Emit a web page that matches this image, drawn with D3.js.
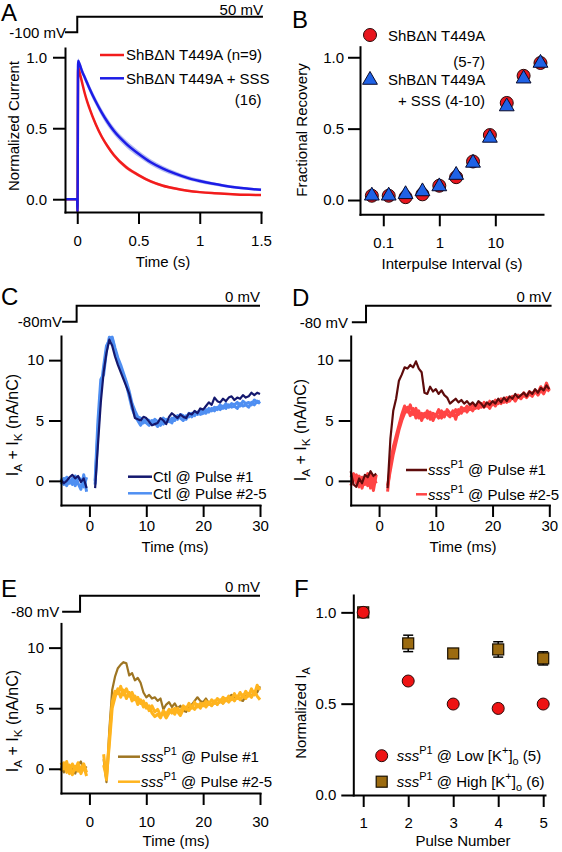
<!DOCTYPE html>
<html><head><meta charset="utf-8">
<script src="https://cdn.jsdelivr.net/npm/d3@7"></script>
<style>
body{margin:0;background:#fff}
svg{display:block}
text{font-family:"Liberation Sans",Arial,Helvetica,sans-serif;fill:#000;white-space:pre}
</style></head><body>
<svg id="fig" width="562" height="852"></svg>
<script>
// ---------- DATA ----------
// Panel A: normalized current decay (mean) and SEM
const tA = [-0.1, 0, 0.002, 0.007, 0.02, 0.04, 0.06, 0.08, 0.1, 0.15, 0.2, 0.25, 0.3, 0.4, 0.5, 0.6, 0.7, 0.8, 0.9, 1.0, 1.1, 1.2, 1.3, 1.4, 1.5];
const redA  = [0, 0, -0.09, 0.93, 0.89, 0.82, 0.75, 0.69, 0.64, 0.53, 0.44, 0.37, 0.31, 0.225, 0.17, 0.125, 0.095, 0.075, 0.06, 0.05, 0.043, 0.038, 0.034, 0.031, 0.03];
const blueA = [0, 0, -0.09, 0.975, 0.95, 0.9, 0.86, 0.82, 0.78, 0.69, 0.61, 0.54, 0.48, 0.39, 0.32, 0.26, 0.215, 0.18, 0.15, 0.128, 0.11, 0.095, 0.083, 0.074, 0.066];
const semRedA  = [0, 0, 0, 0.015, 0.015, 0.015, 0.016, 0.016, 0.016, 0.016, 0.016, 0.015, 0.015, 0.014, 0.012, 0.011, 0.01, 0.009, 0.008, 0.008, 0.007, 0.007, 0.007, 0.006, 0.006];
const semBlueA = [0, 0, 0, 0.02, 0.022, 0.024, 0.025, 0.026, 0.026, 0.027, 0.027, 0.027, 0.026, 0.025, 0.023, 0.021, 0.019, 0.017, 0.015, 0.014, 0.012, 0.011, 0.01, 0.009, 0.009];
const legendA = ["ShB\u0394N T449A (n=9)", "ShB\u0394N T449A + SSS", "(16)"];

// Panel B: recovery from inactivation
const intervalsB = [0.0625, 0.125, 0.25, 0.5, 1, 2, 4, 8, 16, 32, 64];
const recRedB  = [0.03, 0.03, 0.02, 0.04, 0.10, 0.16, 0.27, 0.455, 0.68, 0.87, 0.96];
const recBlueB = [0.03, 0.03, 0.04, 0.06, 0.095, 0.175, 0.26, 0.435, 0.655, 0.85, 0.96];

// Panels C-E: current traces sampled every 0.5 ms from -5 to 30 ms (null = blanked)
const tTrace = d3.range(-5, 30.001, 0.5);
const ctl1 = [0.1,-0.2,0.0,0.3,0.5,0.2,0.4,-0.1,0.2,-0.6, null,null, -0.6,3.0,6.5,9.0,10.6,11.7,11.2,10.3,
  9.6,9.0,8.4,7.8,7.2,6.2,5.2,5.1,5.0,5.3, 5.2,4.9,4.6,4.7,4.8,5.2,5.0,4.7,5.3,5.6,
  5.4,5.2,5.5,5.3,5.2,5.6,5.5,5.8,5.6,6.0, 5.9,6.2,6.5,6.3,6.9,6.6,6.5,6.8,6.6,6.9,
  7.0,6.7,6.9,6.8,7.1,6.9,7.0,7.3,7.1,7.3,7.2];
const ctl2a = [-0.3,0.2,-0.4,0.1,-0.3,0.4,-0.2,-0.7,0.5,-0.9, null,null, 0.0,5.0,8.4,8.8,10.8,11.9,11.8,10.8,
  10.0,9.3,8.7,8.0,7.0,6.0,5.4,5.0,4.6,5.0, 4.8,4.6,5.0,4.8,4.5,4.9,4.7,5.1,4.9,5.2,
  5.0,5.4,5.2,5.0,5.4,5.3,5.6,5.4,5.7,5.5, 5.6,5.9,5.7,6.0,5.8,6.1,5.9,6.2,6.0,6.3,
  6.1,6.2,6.0,6.4,6.2,6.3,6.1,6.5,6.3,6.6,6.4];
const ctl2b = [0.2,-0.3,0.3,-0.2,0.2,-0.4,0.3,0.1,-0.5,0.3, null,null, -0.3,4.2,7.6,9.5,11.2,11.6,11.9,11.0,
  10.2,9.6,8.9,8.2,7.4,6.4,5.8,5.3,5.2,4.8, 5.1,5.0,4.7,5.1,4.9,4.6,5.2,4.9,5.0,4.8,
  5.3,5.1,5.5,5.4,5.1,5.6,5.3,5.7,5.5,5.8, 5.7,5.6,6.0,5.8,6.1,5.9,6.3,6.0,6.4,6.1,
  6.4,6.3,6.5,6.2,6.6,6.4,6.5,6.3,6.7,6.5,6.6];
const sssD1 = [0.8,-0.3,-0.5,0.2,-0.2,0.5,0.3,0.8,0.4,0.6, null,null,null, -0.6,3.5,5.8,6.8,8.3,8.8,9.4,
  9.3,9.6,9.4,9.9,9.3,9.0,7.3,7.2,7.8,7.4, 7.6,7.2,7.5,7.1,6.9,6.4,6.6,6.8,6.5,6.7,
  6.4,6.6,6.3,6.5,6.2,6.6,6.4,6.1,6.5,6.3, 6.6,6.4,6.8,6.5,6.9,6.6,7.0,6.8,7.2,6.9,
  7.1,7.3,7.0,7.4,7.2,7.6,7.3,7.7,7.5,7.9,7.6];
const sssD2a = [0.3,0.6,-0.2,0.4,-0.6,0.2,-0.4,0.6,-0.8,0.5, null,null,null, -0.9,1.5,2.8,3.7,4.6,5.5,6.2,
  5.7,6.3,5.5,6.0,5.2,5.6,5.3,5.8,5.1,5.6, 5.4,5.9,5.2,5.7,5.5,5.3,5.8,5.1,5.9,5.6,
  6.0,5.7,6.1,5.8,6.2,6.0,6.4,6.1,6.3,6.0, 6.5,6.2,6.6,6.4,6.8,6.5,6.7,6.9,6.6,7.0,
  6.8,7.1,6.9,7.2,7.0,7.4,7.1,7.5,7.2,7.7,7.4];
const sssD2b = [-0.4,0.1,0.5,-0.5,0.3,-0.3,0.6,-0.6,0.3,-0.2, null,null,null, -0.4,0.9,2.2,3.2,4.2,5.0,5.6,
  6.1,5.4,6.0,5.2,5.8,5.0,5.6,5.2,5.7,5.0, 5.5,5.2,5.8,5.3,5.9,5.6,5.4,5.9,5.5,6.1,
  5.8,6.2,5.9,6.3,6.0,6.4,6.1,6.5,6.2,6.6, 6.3,6.7,6.4,6.8,6.5,6.9,6.6,7.0,6.8,7.1,
  6.9,7.3,7.0,7.4,7.2,7.5,7.3,7.8,7.4,8.1,7.5];
const sssE1 = [0.2,-0.3,0.4,-0.2,0.1,-0.4,0.3,0.6,-0.1,0.2, null,null,null,null,null, 0.8,-1.1,3.2,6.5,7.6,
  8.3,8.6,8.8,8.7,7.7,7.9,7.3,7.5,7.1,6.3, 5.9,6.1,5.8,5.9,5.6,5.8,4.9,5.3,5.5,5.1,
  5.4,5.0,5.2,4.8,4.7,5.1,5.3,5.6,5.9,5.6, 5.5,5.8,5.4,5.2,5.5,5.3,5.6,5.4,5.7,5.9,
  6.1,5.9,6.0,5.7,5.6,6.0,6.2,6.0,6.4,6.3,6.8];
const sssE2a = [-0.2,0.5,-0.3,0.3,-0.5,0.2,-0.2,0.1,0.4,-0.3, null,null,null,null,null, 1.2,-0.9,2.5,5.5,6.4,
  6.2,6.8,6.1,6.6,6.0,6.3,5.7,5.9,5.4,5.6, 5.0,5.2,4.6,4.3,4.5,4.2,4.8,4.5,4.9,4.6,
  5.0,4.7,4.4,4.9,5.1,4.8,5.2,4.9,5.3,5.0, 5.4,5.1,5.5,5.2,5.6,5.3,5.7,5.4,5.8,5.5,
  5.9,5.6,6.0,5.7,6.1,5.8,6.2,5.9,6.4,6.0,5.7];
const sssE2b = [0.5,0.0,0.6,-0.4,0.4,-0.1,0.5,-0.4,0.2,-0.6, null,null,null,null,null, 0.3,-0.7,2.0,5.0,5.9,
  6.6,5.9,6.5,5.8,6.3,5.6,6.0,5.3,5.7,5.1, 5.4,4.8,5.2,4.7,4.9,4.4,4.6,4.2,4.6,4.9,
  4.5,5.0,4.7,5.2,4.9,5.4,5.0,5.5,5.1,5.4, 5.2,5.6,5.3,5.7,5.4,5.8,5.5,5.9,5.6,6.0,
  5.7,6.2,5.8,6.3,5.9,6.4,6.0,6.6,6.1,6.9,6.5];

// voltage step times (ms or s)
const stepA = {t0: -0.1, ts: 0, t1: 1.516, low: "-100 mV", high: "50 mV"};
const stepC = {t0: -4.8, ts: -2.25, t1: 30, low: "-80mV", high: "0 mV"};
const stepD = {t0: -4.8, ts: -2.3, t1: 30.4, low: "-80 mV", high: "0 mV"};
const stepE = {t0: -4.8, ts: -1.65, t1: 30, low: "-80 mV", high: "0 mV"};

// Panel F
const pulsesF = [1, 2, 3, 4, 5];
const lowKF  = [1.0, 0.624, 0.498, 0.474, 0.498];
const highKF = [1.0, 0.83, 0.775, 0.797, 0.748];
const highKErrF = [0, 0.045, 0.015, 0.042, 0.036];

// tick values
const ticksA_x = [0, 0.5, 1, 1.5], ticks01 = [0, 0.5, 1];
const ticksB_x = [0.1, 1, 10];
const ticksTrace_x = [0, 10, 20, 30], ticksTrace_y = [0, 5, 10];

// ---------- DRAWING ----------
const svg = d3.select("#fig");
const FONT = '"Liberation Sans", Arial, Helvetica, sans-serif';
const f1 = d3.format(".1f");

function axes(x, y, xt, xf, yt, yf, xpad, ypad) {
  const xb = y.range()[0], yl = x.range()[0];
  const ax = svg.append("g").attr("transform", `translate(0,${xb})`)
    .call(d3.axisBottom(x).tickValues(xt).tickFormat(xf).tickSize(12).tickSizeOuter(0).tickPadding(xpad));
  const ay = svg.append("g").attr("transform", `translate(${yl},0)`)
    .call(d3.axisLeft(y).tickValues(yt).tickFormat(yf).tickSize(12).tickSizeOuter(0).tickPadding(ypad));
  [ax, ay].forEach(a => {
    a.attr("font-size", 15).attr("font-family", FONT);
    a.select(".domain").attr("stroke-width", 2).attr("stroke-linecap", "square");
    a.selectAll(".tick line").attr("stroke-width", 2);
    a.selectAll("text").attr("fill", "#000");
  });
}
function txt(x, y, s, anchor, size) {
  return svg.append("text").attr("x", x).attr("y", y).attr("text-anchor", anchor || "start")
    .attr("font-size", size || 15).text(s);
}
function rich(parent, x, y, parts, anchor, size) {
  size = size || 15;
  const t = parent.append("text").attr("x", x).attr("y", y).attr("text-anchor", anchor || "start").attr("font-size", size);
  let cur = 0;
  parts.forEach(p => {
    const target = p.sup ? -7 : p.sub ? 4 : 0;
    const ts = t.append("tspan").attr("dy", target - cur).text(p.t);
    if (p.sup || p.sub) ts.attr("font-size", size * 0.73);
    if (p.i) ts.attr("font-style", "italic");
    cur = target;
  });
  return t;
}
function ylab(x, y, parts, size) {
  const g = svg.append("g").attr("transform", `translate(${x},${y}) rotate(-90)`);
  rich(g, 0, 0, parts, "middle", size);
}
function step(x, st, yLow, yHigh, lowRight, highBase) {
  svg.append("path").attr("fill", "none").attr("stroke", "#000").attr("stroke-width", 2)
    .attr("d", `M${x(st.t0)},${yLow}H${x(st.ts)}V${yHigh}H${x(st.t1)}`);
  txt(lowRight, yLow + 5.3, st.low, "end");
  txt(x(st.t1), highBase, st.high, "end");
}
function letter(x, y, s) { txt(x, y, s, "start", 24); }
function traces(x, y, list) {
  const line = d3.line().defined(d => d[1] != null).x(d => x(d[0])).y(d => y(d[1]));
  list.forEach(([arr, col, w]) => {
    svg.append("path").datum(tTrace.map((t, i) => [t, arr[i]]))
      .attr("fill", "none").attr("stroke", col).attr("stroke-width", w)
      .attr("stroke-linejoin", "round").attr("d", line);
  });
}
function legLine(x0, x1, y, col) {
  svg.append("line").attr("x1", x0).attr("x2", x1).attr("y1", y).attr("y2", y)
    .attr("stroke", col).attr("stroke-width", 2.5);
}

// ===== Panel A =====
const xA = d3.scaleLinear([-0.1, 1.5], [65, 261]);
const yA = d3.scaleLinear([-0.09, 1.065], [212, 48]);
letter(1, 21, "A");
step(xA, stepA, 32.3, 16.7, 66, 14.5);
const areaA = d3.area().defined((d, i) => i >= 3).curve(d3.curveMonotoneX)
  .x(d => xA(d[0])).y0(d => yA(d[1] - d[2])).y1(d => yA(d[1] + d[2]));
const lineA = d3.line().curve(d3.curveMonotoneX).x(d => xA(d[0])).y(d => yA(d[1]));
const rA = tA.map((t, i) => [t, redA[i], semRedA[i]]);
const bA = tA.map((t, i) => [t, blueA[i], semBlueA[i]]);
svg.append("path").datum(rA).attr("d", areaA).attr("fill", "#f6a8a8");
svg.append("path").datum(bA).attr("d", areaA).attr("fill", "#b4bcf2");
svg.append("path").datum(rA).attr("d", lineA).attr("fill", "none").attr("stroke", "#f21c1c").attr("stroke-width", 2.5);
svg.append("path").datum(bA).attr("d", lineA).attr("fill", "none").attr("stroke", "#1c1ce6").attr("stroke-width", 2.5);
axes(xA, yA, ticksA_x, d => String(d), ticks01, f1, 11, 6);
legLine(100, 124, 55, "#f21c1c");
txt(126, 60.3, legendA[0]);
legLine(100, 124, 78.3, "#1c1ce6");
txt(126, 83.6, legendA[1]);
txt(261.5, 105.3, legendA[2], "end");
txt(163, 266.5, "Time (s)", "middle");
ylab(19, 126, [{t: "Normalized Current"}]);

// ===== Panel B =====
const xB = d3.scaleLog([0.0384, 71], [360, 543]);
const yB = d3.scaleLinear([-0.1, 1.074], [214.3, 46.7]);
letter(292, 28, "B");
axes(xB, yB, ticksB_x, d => String(d), ticks01, f1, 11, 4);
const tri = d3.symbol().type(d3.symbolTriangle).size(95);
svg.append("g").selectAll("circle").data(intervalsB).join("circle")
  .attr("cx", d => xB(d)).attr("cy", (d, i) => yB(recRedB[i])).attr("r", 6.5)
  .attr("fill", "#e8161e").attr("stroke", "#2a0a0a").attr("stroke-width", 1);
svg.append("g").selectAll("path").data(intervalsB).join("path")
  .attr("transform", (d, i) => `translate(${xB(d)},${yB(recBlueB[i])})`).attr("d", tri)
  .attr("fill", "#1f62e6").attr("stroke", "#0a0a2a").attr("stroke-width", 1);
svg.append("circle").attr("cx", 370).attr("cy", 35).attr("r", 6.5)
  .attr("fill", "#e8161e").attr("stroke", "#2a0a0a").attr("stroke-width", 1);
svg.append("path").attr("transform", "translate(370,80)").attr("d", tri)
  .attr("fill", "#1f62e6").attr("stroke", "#0a0a2a").attr("stroke-width", 1);
txt(388, 40.5, "ShB\u0394N T449A");
txt(485, 67, "(5-7)", "end");
txt(388, 84.5, "ShB\u0394N T449A");
txt(485, 105.5, "+ SSS (4-10)", "end");
txt(452, 269, "Interpulse Interval (s)", "middle");
ylab(307, 130, [{t: "Fractional Recovery"}]);

const IAIK = [{t: "I"}, {t: "A", sub: true}, {t: " + I"}, {t: "K", sub: true}, {t: " (nA/nC)"}];

// ===== Panel C =====
const xC = d3.scaleLinear([-5, 30], [61, 260]);
const yC = d3.scaleLinear([-2, 12], [505, 336]);
letter(1, 305, "C");
step(xC, stepC, 321.7, 305.7, 62, 302);
traces(xC, yC, [[ctl2a, "#4f8ff2", 3], [ctl2b, "#4f8ff2", 3], [ctl1, "#14186e", 2.2]]);
axes(xC, yC, ticksTrace_x, d => String(d), ticksTrace_y, d => String(d), 3, 5);
legLine(128, 152, 476.7, "#14186e");
txt(153, 482, "Ctl @ Pulse #1");
legLine(128, 152, 493.3, "#4f8ff2");
txt(153, 498.6, "Ctl @ Pulse #2-5");
txt(175, 552, "Time (ms)", "middle");
ylab(18, 425, IAIK, 16);

// ===== Panel D =====
const xD = d3.scaleLinear([-5, 30], [350.7, 549.3]);
const yD = d3.scaleLinear([-2, 12], [505, 336]);
letter(292, 306, "D");
step(xD, stepD, 322.3, 305.7, 348, 302.3);
traces(xD, yD, [[sssD2a, "#ff4444", 3], [sssD2b, "#ff4444", 3], [sssD1, "#5e0b0b", 2.2]]);
axes(xD, yD, ticksTrace_x, d => String(d), ticksTrace_y, d => String(d), 3, 5);
legLine(406, 427, 470, "#5e0b0b");
rich(svg, 428, 475.3, [{t: "sss", i: true}, {t: "P1", sup: true}, {t: " @ Pulse #1"}]);
legLine(416, 427, 494.3, "#ff4444");
rich(svg, 428, 499.6, [{t: "sss", i: true}, {t: "P1", sup: true}, {t: " @ Pulse #2-5"}]);
txt(463, 552, "Time (ms)", "middle");
ylab(306, 430, IAIK, 16);

// ===== Panel E =====
const xE = d3.scaleLinear([-5, 30], [61, 260]);
const yE = d3.scaleLinear([-2, 12], [793, 623.4]);
letter(1, 597, "E");
step(xE, stepE, 611.7, 595.7, 59.3, 591.7);
traces(xE, yE, [[sssE1, "#9e7522", 2.2], [sssE2a, "#ffb41e", 3], [sssE2b, "#ffb41e", 3]]);
axes(xE, yE, ticksTrace_x, d => String(d), ticksTrace_y, d => String(d), 11, 5);
legLine(118, 140, 756.7, "#9e7522");
rich(svg, 141, 762, [{t: "sss", i: true}, {t: "P1", sup: true}, {t: " @ Pulse #1"}]);
legLine(118, 140, 781.7, "#ffb41e");
rich(svg, 141, 787, [{t: "sss", i: true}, {t: "P1", sup: true}, {t: " @ Pulse #2-5"}]);
txt(176, 846, "Time (ms)", "middle");
ylab(18, 721, IAIK, 16);

// ===== Panel F =====
const xF = d3.scaleLinear([0.78, 5.04], [353.3, 545]);
const yF = d3.scaleLinear([0, 1.095], [795, 595]);
letter(294, 597, "F");
axes(xF, yF, pulsesF, d => String(d), ticks01, f1, 10, 5);
const eb = svg.append("g").attr("stroke", "#000").attr("stroke-width", 1.5);
pulsesF.forEach((p, i) => {
  const e = highKErrF[i]; if (!e) return;
  const cx = xF(p), y0 = yF(highKF[i] - e), y1 = yF(highKF[i] + e);
  eb.append("line").attr("x1", cx).attr("x2", cx).attr("y1", y0).attr("y2", y1);
  eb.append("line").attr("x1", cx - 5).attr("x2", cx + 5).attr("y1", y0).attr("y2", y0);
  eb.append("line").attr("x1", cx - 5).attr("x2", cx + 5).attr("y1", y1).attr("y2", y1);
});
svg.append("g").selectAll("rect").data(pulsesF).join("rect")
  .attr("x", d => xF(d) - 5.5).attr("y", (d, i) => yF(highKF[i]) - 5.5).attr("width", 11).attr("height", 11)
  .attr("fill", "#9c6b10").attr("stroke", "#1a1000").attr("stroke-width", 1.2);
svg.append("g").selectAll("circle").data(pulsesF).join("circle")
  .attr("cx", d => xF(d)).attr("cy", (d, i) => yF(lowKF[i])).attr("r", 6)
  .attr("fill", "#ee1313").attr("stroke", "#2a0808").attr("stroke-width", 1);
svg.append("circle").attr("cx", 381.7).attr("cy", 755.7).attr("r", 6)
  .attr("fill", "#ee1313").attr("stroke", "#2a0808").attr("stroke-width", 1);
svg.append("rect").attr("x", 376.2).attr("y", 776.2).attr("width", 11).attr("height", 11)
  .attr("fill", "#9c6b10").attr("stroke", "#1a1000").attr("stroke-width", 1.2);
rich(svg, 396.7, 761, [{t: "sss", i: true}, {t: "P1", sup: true}, {t: " @ Low [K"}, {t: "+", sup: true}, {t: "]"}, {t: "o", sub: true}, {t: " (5)"}]);
rich(svg, 396.7, 787, [{t: "sss", i: true}, {t: "P1", sup: true}, {t: " @ High [K"}, {t: "+", sup: true}, {t: "]"}, {t: "o", sub: true}, {t: " (6)"}]);
txt(463, 846, "Pulse Number", "middle");
ylab(306, 713, [{t: "Normalized I"}, {t: "A", sub: true}]);
</script></body></html>
